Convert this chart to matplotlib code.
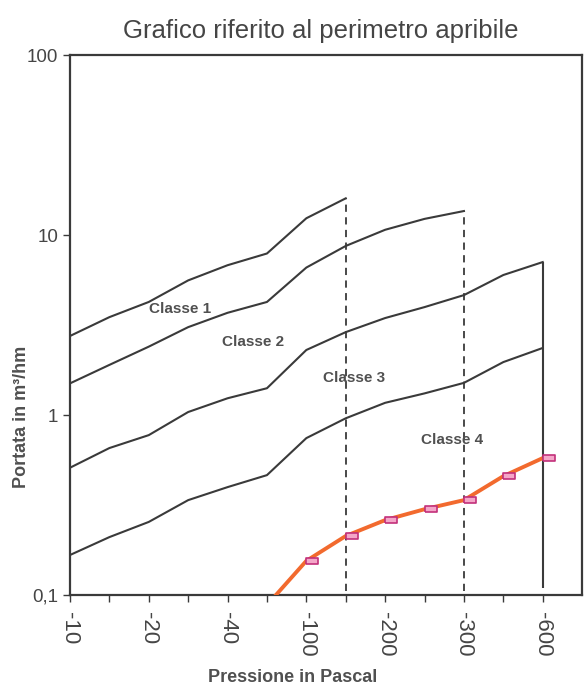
import numpy as np
import matplotlib
matplotlib.use("Agg")
import matplotlib.pyplot as plt
import matplotlib.transforms as mtransforms
from matplotlib.ticker import FixedLocator, NullLocator

plt.rcParams["font.family"] = ["Liberation Sans", "DejaVu Sans"]

# categorie (pressione in Pa) e valori
pressioni = [-10, -15, -20, -30, -40, -50, -100, -150, -200, -250, -300, -450, -600]
etichette_x = ["-10", "", "-20", "", "-40", "", "-100", "", "-200", "", "-300", "", "-600"]

classe1 = [2.75, 3.5, 4.25, 5.6, 6.8, 7.9, 12.4, 16.0]
classe2 = [1.5, 1.9, 2.4, 3.08, 3.7, 4.25, 6.6, 8.7, 10.7, 12.3, 13.6]
classe3 = [0.51, 0.656, 0.774, 1.04, 1.24, 1.41, 2.3, 2.89, 3.46, 3.98, 4.64, 6.0, 7.08]
classe4 = [0.167, 0.21, 0.255, 0.337, 0.398, 0.464, 0.745, 0.96, 1.17, 1.32, 1.51, 1.97, 2.36]

# serie misurata (parte da -50 Pa, sotto il limite del grafico)
misura_idx = [5, 6, 7, 8, 9, 10, 11, 12]
misura = [0.088, 0.155, 0.213, 0.261, 0.30, 0.337, 0.458, 0.577]

etichette_classi = ["Classe 1", "Classe 2", "Classe 3", "Classe 4"]
pos_etichette = [(2.8, 3.9), (4.65, 2.54), (7.2, 1.6), (9.7, 0.726)]

y_ticks = [0.1, 1, 10, 100]
y_labels = ["0,1", "1", "10", "100"]

grigio = "#3a3a3a"
testo = "#454545"

fig = plt.figure(figsize=(5.88, 6.88), dpi=100)
ax = fig.add_axes([0.119, 0.135, 0.871, 0.785])

x = np.arange(len(pressioni))

for serie in [classe1, classe2, classe3, classe4]:
    ax.plot(x[:len(serie)], serie, color=grigio, lw=1.5, solid_joinstyle="round")

# linee verticali di chiusura delle classi
ax.vlines(len(classe1) - 1, 0.105, classe1[-1], colors=grigio, linestyles=(0, (4, 3)), lw=1.3)
ax.vlines(len(classe2) - 1, 0.105, classe2[-1], colors=grigio, linestyles=(0, (4, 3)), lw=1.3)
ax.vlines(len(classe3) - 1, 0.11, classe3[-1], colors=grigio, lw=1.5)

# serie misurata
ax.plot(misura_idx, misura, color="#f26a2e", lw=2.8, solid_capstyle="butt", zorder=3)
offset = mtransforms.ScaledTranslation(6 / 100, 0, fig.dpi_scale_trans)
rect = [(-1, -0.5), (1, -0.5), (1, 0.5), (-1, 0.5), (-1, -0.5)]
ax.plot(misura_idx[1:], misura[1:], ls="none", marker=rect, ms=8,
        mfc="#f4a6c8", mec="#c2307a", mew=1.2, zorder=4,
        transform=ax.transData + offset)

for nome, (px, py) in zip(etichette_classi, pos_etichette):
    ax.text(px, py, nome, fontsize=11, fontweight="bold", color="#505050",
            ha="center", va="center")

ax.set_yscale("log")
ax.set_ylim(0.1, 100)
ax.set_xlim(0, 13)
ax.yaxis.set_major_locator(FixedLocator(y_ticks))
ax.yaxis.set_minor_locator(NullLocator())
ax.set_yticklabels(y_labels)
ax.set_xticks(x)
ax.set_xticklabels(etichette_x, rotation=270)

ax.tick_params(axis="both", direction="out", length=5, width=1, color=grigio,
               labelcolor=testo)
ax.tick_params(axis="y", labelsize=13.5)
ax.tick_params(axis="x", labelsize=16, pad=7)
for sp in ax.spines.values():
    sp.set_color(grigio)
    sp.set_linewidth(1.6)

ax.set_xlabel("Pressione in Pascal", fontsize=13, fontweight="bold", color="#505050")
ax.xaxis.set_label_coords(0.435, -0.137)
ax.set_ylabel("Portata in m³/hm", fontsize=13, fontweight="bold", color="#505050")
ax.yaxis.set_label_coords(-0.078, 0.33)

fig.text(0.545, 0.955, "Grafico riferito al perimetro apribile", fontsize=18.5,
         color=testo, ha="center", va="center")

fig.savefig("out.png", dpi=100)
